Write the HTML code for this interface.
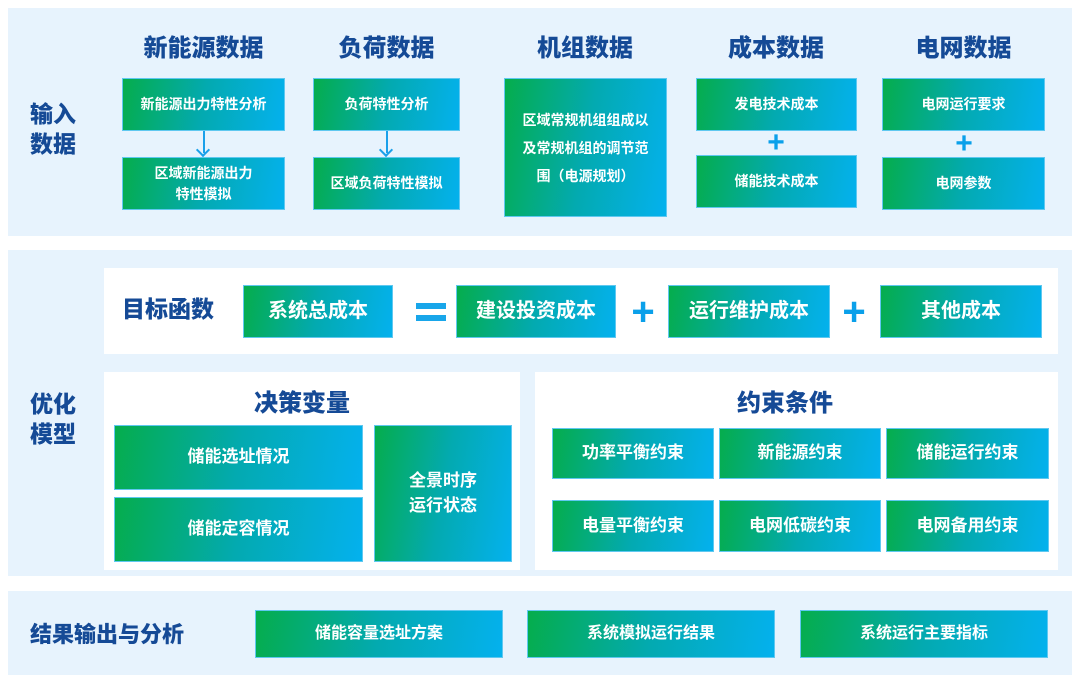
<!DOCTYPE html>
<html><head><meta charset="utf-8"><style>
*{margin:0;padding:0;box-sizing:border-box}
body{width:1080px;height:685px;position:relative;background:#fff;font-family:"Liberation Sans","Noto Sans CJK SC",sans-serif;overflow:hidden}
.p{position:absolute;background:#e7f3fd}
.w{position:absolute;background:#fff}
.b{position:absolute;background:linear-gradient(100deg,#05ad4c 0%,#03aab0 50%,#04b1ee 100%);color:#fff;font-weight:bold;display:flex;align-items:center;justify-content:center;text-align:center;font-size:14px;line-height:1.45;border:1px solid #5fc8f0}
.h{position:absolute;color:#154a96;font-weight:900;font-size:24px;text-align:center}
.l{position:absolute;color:#154a96;font-weight:900;font-size:23px;line-height:1.3}
.plus{position:absolute;color:#0aa0ea;font-weight:bold;text-align:center}
.arr{position:absolute;width:2px;background:#1aa0ea}
.arr:after{content:"";position:absolute;left:-5px;bottom:-2px;width:8px;height:8px;border-right:2px solid #1aa0ea;border-bottom:2px solid #1aa0ea;transform:rotate(45deg)}
.o{font-size:20px}
</style></head><body>
<div class="p" style="left:8px;top:8px;width:1064px;height:228px"></div>
<div class="p" style="left:8px;top:250px;width:1064px;height:326px"></div>
<div class="p" style="left:8px;top:591px;width:1064px;height:84px"></div>

<div class="l" style="left:30px;top:100px">输入<br>数据</div>
<div class="h" style="left:122px;top:28px;width:163px">新能源数据</div>
<div class="h" style="left:313px;top:28px;width:147px">负荷数据</div>
<div class="h" style="left:504px;top:28px;width:162px">机组数据</div>
<div class="h" style="left:696px;top:28px;width:160px">成本数据</div>
<div class="h" style="left:882px;top:28px;width:163px">电网数据</div>

<div class="b" style="left:122px;top:78px;width:163px;height:53px">新能源出力特性分析</div>
<div class="arr" style="left:203px;top:131px;height:22px"></div>
<div class="b" style="left:122px;top:157px;width:163px;height:53px">区域新能源出力<br>特性模拟</div>
<div class="b" style="left:313px;top:78px;width:147px;height:53px">负荷特性分析</div>
<div class="arr" style="left:386px;top:131px;height:22px"></div>
<div class="b" style="left:313px;top:157px;width:147px;height:53px">区域负荷特性模拟</div>
<div class="b" style="left:504px;top:78px;width:163px;height:139px;line-height:2">区域常规机组组成以<br>及常规机组的调节范<br>围（电源规划）</div>
<div class="b" style="left:696px;top:78px;width:161px;height:53px">发电技术成本</div>
<div class="plus" style="left:756px;top:128px;width:40px;font-size:30px;line-height:30px">+</div>
<div class="b" style="left:696px;top:155px;width:161px;height:53px">储能技术成本</div>
<div class="b" style="left:882px;top:78px;width:163px;height:53px">电网运行要求</div>
<div class="plus" style="left:944px;top:129px;width:40px;font-size:30px;line-height:30px">+</div>
<div class="b" style="left:882px;top:157px;width:163px;height:53px">电网参数</div>

<div class="l" style="left:30px;top:390px">优化<br>模型</div>
<div class="w" style="left:104px;top:268px;width:954px;height:86px"></div>
<div class="l" style="left:122px;top:295px">目标函数</div>
<div class="b o" style="left:243px;top:285px;width:150px;height:53px">系统总成本</div>
<div style="position:absolute;left:416px;top:303px;width:30px;height:6px;background:#18a6ea"></div>
<div style="position:absolute;left:416px;top:315px;width:30px;height:6px;background:#18a6ea"></div>
<div class="b o" style="left:456px;top:285px;width:160px;height:53px">建设投资成本</div>
<div class="plus" style="left:625px;top:292px;width:36px;font-size:40px;line-height:40px">+</div>
<div class="b o" style="left:668px;top:285px;width:162px;height:53px">运行维护成本</div>
<div class="plus" style="left:836px;top:292px;width:36px;font-size:40px;line-height:40px">+</div>
<div class="b o" style="left:880px;top:285px;width:162px;height:53px">其他成本</div>

<div class="w" style="left:104px;top:372px;width:416px;height:198px"></div>
<div class="h" style="left:104px;top:383px;width:396px">决策变量</div>
<div class="b o" style="left:114px;top:425px;width:249px;height:65px;font-size:17px">储能选址情况</div>
<div class="b o" style="left:114px;top:497px;width:249px;height:65px;font-size:17px">储能定容情况</div>
<div class="b o" style="left:374px;top:425px;width:138px;height:137px;font-size:17px">全景时序<br>运行状态</div>

<div class="w" style="left:535px;top:372px;width:523px;height:198px"></div>
<div class="h" style="left:535px;top:383px;width:500px">约束条件</div>
<div class="b" style="left:552px;top:428px;width:162px;height:51px;font-size:17px">功率平衡约束</div>
<div class="b" style="left:719px;top:428px;width:162px;height:51px;font-size:17px">新能源约束</div>
<div class="b" style="left:886px;top:428px;width:163px;height:51px;font-size:17px">储能运行约束</div>
<div class="b" style="left:552px;top:500px;width:162px;height:52px;font-size:17px">电量平衡约束</div>
<div class="b" style="left:719px;top:500px;width:162px;height:52px;font-size:17px">电网低碳约束</div>
<div class="b" style="left:886px;top:500px;width:163px;height:52px;font-size:17px">电网备用约束</div>

<div class="l" style="left:30px;top:621px;font-size:22px">结果输出与分析</div>
<div class="b" style="left:255px;top:610px;width:248px;height:48px;font-size:16px">储能容量选址方案</div>
<div class="b" style="left:527px;top:610px;width:248px;height:48px;font-size:16px">系统模拟运行结果</div>
<div class="b" style="left:800px;top:610px;width:248px;height:48px;font-size:16px">系统运行主要指标</div>
</body></html>
